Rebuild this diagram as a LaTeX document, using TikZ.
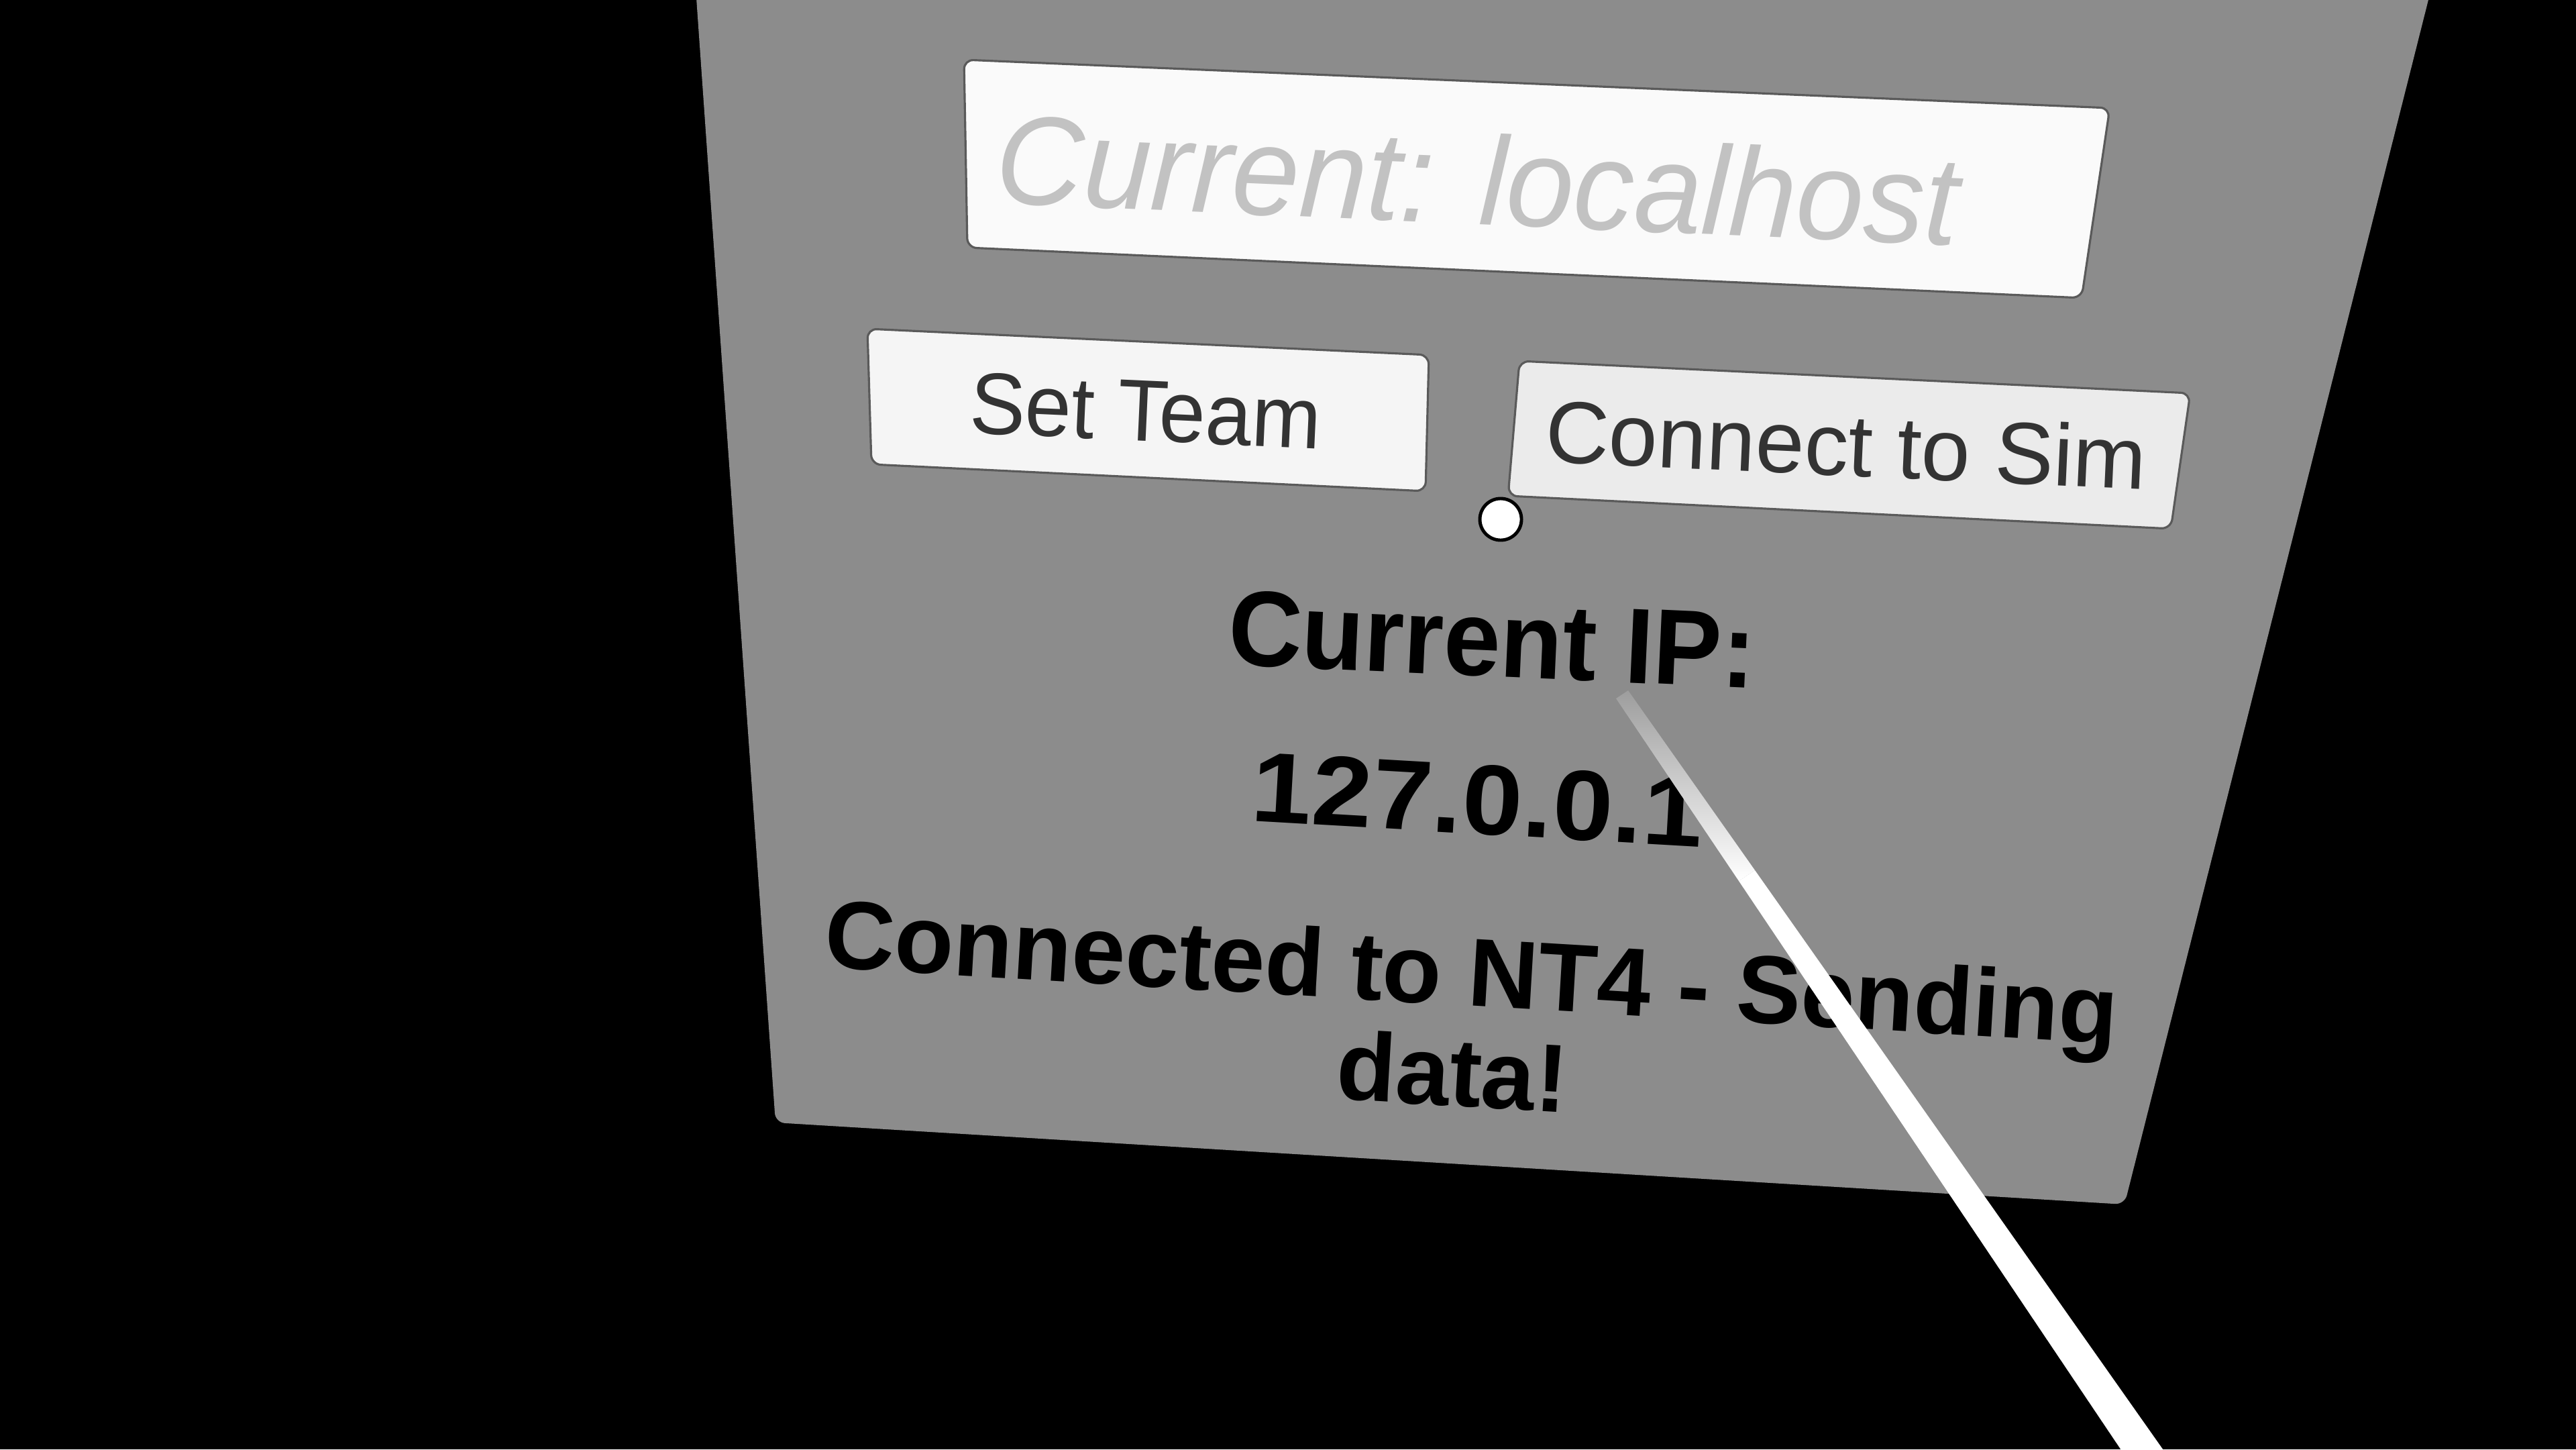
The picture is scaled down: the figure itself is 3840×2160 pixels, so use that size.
\documentclass[tikz,border=0pt]{standalone}
\usepackage{fontspec}
\setmainfont{Liberation Sans}
\definecolor{panelgray}{HTML}{8C8C8C}
\definecolor{fieldwhite}{HTML}{FAFAFA}
\definecolor{btnwhite}{HTML}{F5F5F5}
\definecolor{btnhover}{HTML}{EBEBEB}
\definecolor{hintgray}{HTML}{C2C2C2}
\definecolor{btntext}{HTML}{333333}
\definecolor{edgegray}{HTML}{5A5A5A}
\tikzset{
  uibox/.style={draw=edgegray, line width=0.9pt, rounded corners=4pt},
  hinttext/.style={anchor=base, inner sep=0pt, text=hintgray, font=\fontsize{51.5}{60}\selectfont\itshape},
  btnlabel/.style={anchor=base, inner sep=0pt, text=btntext},
  infotext/.style={anchor=base, inner sep=0pt, text=black, font=\fontsize{41}{48}\selectfont\bfseries},
}
\begin{document}
\begin{tikzpicture}[x=0.01cm,y=-0.01cm]
\useasboundingbox (0,0) rectangle (3840,2160);
\fill[black] (0,0) rectangle (3840,2160);
\begin{scope}
\clip (0,0) rectangle (3840,2160);
% panel
\fill[panelgray, rounded corners=4pt] (1034,-60) -- (3635,-60) -- (3167,1795) -- (1156,1673) -- cycle;
% input field
\filldraw[uibox, fill=fieldwhite] (1437,89) -- (3145,161) -- (3103,444) -- (1442,369) -- cycle;
\node[hinttext, rotate=-2.5, yscale=1.04] (hint) at (2200,334) {Current: localhost};
% buttons
\filldraw[uibox, fill=btnwhite] (1293,490) -- (2130,529) -- (2125,732) -- (1299,692) -- cycle;
\node[btnlabel, font=\fontsize{35.3}{40}\selectfont, rotate=-2.6, yscale=1.05] (setteam) at (1706,657) {Set Team};
\filldraw[uibox, fill=btnhover] (2265,538) -- (3265,586) -- (3236,788) -- (2248,739) -- cycle;
\node[btnlabel, font=\fontsize{37.3}{44}\selectfont, rotate=-2.6] (connect) at (2750,709) {Connect to Sim};
% cursor
\node[circle, fill=white, draw=black, line width=1.4pt, minimum size=0.62cm, inner sep=0pt] (cursor) at (2237,774) {};
% info texts
\node[infotext, font=\fontsize{43.3}{50}\selectfont\bfseries, rotate=-2.6, yscale=1.05] (iplabel) at (2222,1008) {Current IP:};
\node[infotext, rotate=-3.3, xscale=1.12, yscale=1.03] (ip) at (2200,1243) {127.0.0.1};
\node[infotext, rotate=-3.4] (status1) at (2191,1499) {Connected to NT4 - Sending};
\node[infotext, rotate=-3.4] (status2) at (2162,1648) {data!};
% pointer ray
\shade[top color=panelgray!85!white, bottom color=white] (2409,1041) -- (2427,1029) -- (2616,1297) -- (2592,1313) -- cycle;
\fill[white] (2592,1313) -- (2616,1297) -- (3253,2201) -- (3209,2231) -- cycle;
\end{scope}
\end{tikzpicture}
\end{document}
